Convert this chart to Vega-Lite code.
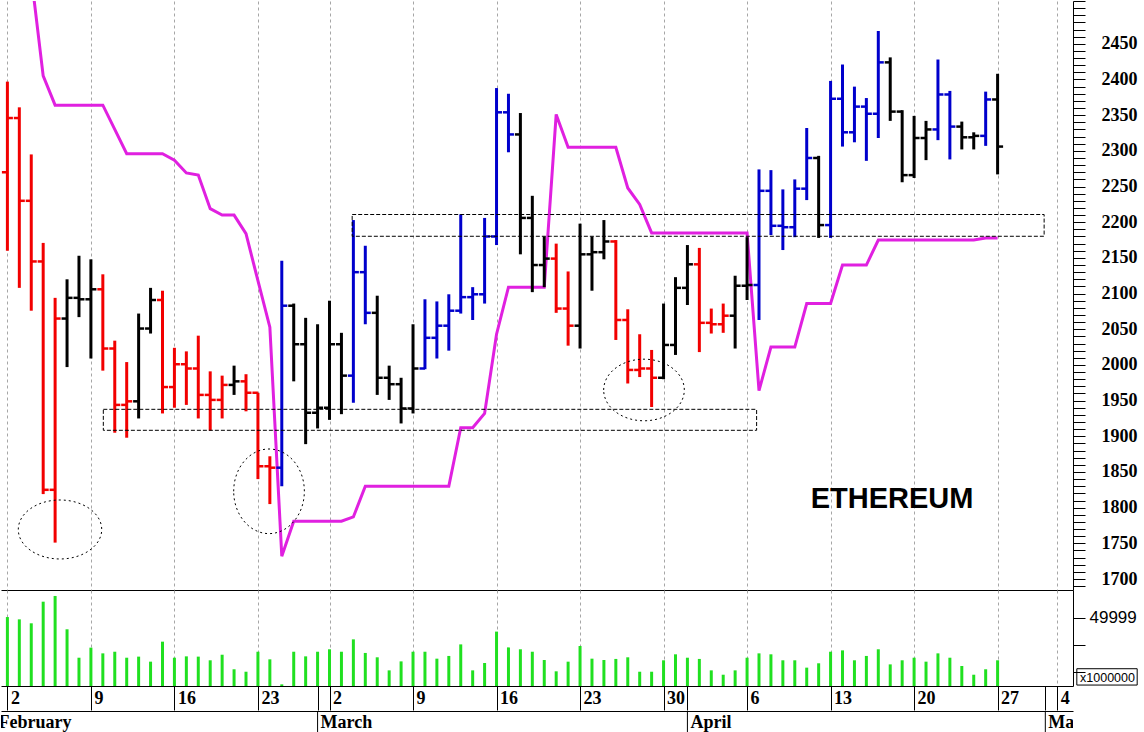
{
  "$schema": "https://vega.github.io/schema/vega-lite/v6.json",
  "background": "white",
  "padding": 0,
  "spacing": 0,
  "datasets": {
    "bars": [
      {"i":0,"o":2270,"h":2397,"l":2160,"c":2346,"s":"r","vol":50700,"st":2620},
      {"i":1,"o":2346,"h":2361,"l":2108,"c":2230,"s":"r","vol":49000,"st":2580},
      {"i":2,"o":2230,"h":2295,"l":2076,"c":2145,"s":"r","vol":46100,"st":2545},
      {"i":3,"o":2145,"h":2171,"l":1819,"c":1825,"s":"r","vol":62000,"st":2405},
      {"i":4,"o":1825,"h":2094,"l":1751,"c":2065,"s":"r","vol":66200,"st":2364},
      {"i":5,"o":2065,"h":2120,"l":1997,"c":2094,"s":"k","vol":41700,"st":2364},
      {"i":6,"o":2094,"h":2153,"l":2067,"c":2092,"s":"k","vol":20800,"st":2364},
      {"i":7,"o":2092,"h":2148,"l":2009,"c":2106,"s":"k","vol":28200,"st":2364},
      {"i":8,"o":2106,"h":2127,"l":1992,"c":2023,"s":"r","vol":24000,"st":2364},
      {"i":9,"o":2023,"h":2034,"l":1905,"c":1944,"s":"r","vol":25200,"st":2330},
      {"i":10,"o":1944,"h":2004,"l":1898,"c":1949,"s":"r","vol":20800,"st":2296},
      {"i":11,"o":1949,"h":2072,"l":1925,"c":2051,"s":"k","vol":21600,"st":2296},
      {"i":12,"o":2051,"h":2108,"l":2044,"c":2091,"s":"k","vol":17900,"st":2296},
      {"i":13,"o":2091,"h":2104,"l":1932,"c":1969,"s":"r","vol":32600,"st":2296},
      {"i":14,"o":1969,"h":2024,"l":1940,"c":2001,"s":"r","vol":20800,"st":2287},
      {"i":15,"o":2001,"h":2019,"l":1944,"c":1995,"s":"r","vol":21800,"st":2269},
      {"i":16,"o":1995,"h":2041,"l":1925,"c":1958,"s":"r","vol":21600,"st":2266},
      {"i":17,"o":1958,"h":1991,"l":1908,"c":1951,"s":"r","vol":18900,"st":2219},
      {"i":18,"o":1951,"h":1985,"l":1925,"c":1972,"s":"r","vol":23000,"st":2210},
      {"i":19,"o":1972,"h":1999,"l":1958,"c":1977,"s":"k","vol":12300,"st":2210},
      {"i":20,"o":1977,"h":1987,"l":1935,"c":1961,"s":"r","vol":10500,"st":2184},
      {"i":21,"o":1961,"h":1961,"l":1840,"c":1858,"s":"r","vol":25200,"st":2118},
      {"i":22,"o":1858,"h":1872,"l":1805,"c":1856,"s":"r","vol":19600,"st":2053},
      {"i":23,"o":1856,"h":2146,"l":1830,"c":2083,"s":"b","vol":1200,"st":1732},
      {"i":24,"o":2083,"h":2086,"l":1977,"c":2029,"s":"k","vol":25200,"st":1781},
      {"i":25,"o":2029,"h":2066,"l":1889,"c":1933,"s":"k","vol":21800,"st":1781},
      {"i":26,"o":1933,"h":2057,"l":1911,"c":1940,"s":"k","vol":25200,"st":1781},
      {"i":27,"o":1940,"h":2090,"l":1923,"c":2029,"s":"k","vol":27000,"st":1781},
      {"i":28,"o":2029,"h":2045,"l":1931,"c":1985,"s":"k","vol":25200,"st":1781},
      {"i":29,"o":1985,"h":2203,"l":1947,"c":2130,"s":"b","vol":34300,"st":1787},
      {"i":30,"o":2130,"h":2167,"l":2057,"c":2073,"s":"b","vol":24300,"st":1830},
      {"i":31,"o":2073,"h":2097,"l":1958,"c":1982,"s":"k","vol":21100,"st":1830},
      {"i":32,"o":1982,"h":1999,"l":1951,"c":1973,"s":"k","vol":11500,"st":1830},
      {"i":33,"o":1973,"h":1982,"l":1918,"c":1939,"s":"k","vol":18100,"st":1830},
      {"i":34,"o":1939,"h":2057,"l":1932,"c":1995,"s":"k","vol":25200,"st":1830},
      {"i":35,"o":1995,"h":2092,"l":1994,"c":2038,"s":"b","vol":25200,"st":1830},
      {"i":36,"o":2038,"h":2089,"l":2009,"c":2055,"s":"b","vol":20100,"st":1830},
      {"i":37,"o":2055,"h":2099,"l":2020,"c":2076,"s":"b","vol":22100,"st":1830},
      {"i":38,"o":2076,"h":2211,"l":2072,"c":2095,"s":"b","vol":30600,"st":1912},
      {"i":39,"o":2095,"h":2109,"l":2063,"c":2099,"s":"b","vol":11500,"st":1912},
      {"i":40,"o":2099,"h":2206,"l":2086,"c":2180,"s":"b","vol":16900,"st":1932},
      {"i":41,"o":2180,"h":2388,"l":2168,"c":2354,"s":"b","vol":40000,"st":2043},
      {"i":42,"o":2354,"h":2380,"l":2298,"c":2323,"s":"b","vol":28400,"st":2109},
      {"i":43,"o":2323,"h":2353,"l":2155,"c":2206,"s":"k","vol":27000,"st":2109},
      {"i":44,"o":2206,"h":2237,"l":2102,"c":2140,"s":"k","vol":25200,"st":2109},
      {"i":45,"o":2140,"h":2180,"l":2109,"c":2149,"s":"k","vol":19100,"st":2109},
      {"i":46,"o":2149,"h":2170,"l":2073,"c":2079,"s":"r","vol":10800,"st":2351},
      {"i":47,"o":2079,"h":2131,"l":2027,"c":2055,"s":"r","vol":17900,"st":2305},
      {"i":48,"o":2055,"h":2198,"l":2023,"c":2155,"s":"k","vol":29400,"st":2305},
      {"i":49,"o":2155,"h":2180,"l":2104,"c":2158,"s":"k","vol":20100,"st":2305},
      {"i":50,"o":2158,"h":2203,"l":2148,"c":2173,"s":"k","vol":19100,"st":2305},
      {"i":51,"o":2173,"h":2175,"l":2035,"c":2063,"s":"r","vol":19900,"st":2305},
      {"i":52,"o":2063,"h":2078,"l":1974,"c":1993,"s":"r","vol":21100,"st":2248},
      {"i":53,"o":1993,"h":2043,"l":1983,"c":1995,"s":"r","vol":10500,"st":2225},
      {"i":54,"o":1995,"h":2021,"l":1941,"c":1982,"s":"r","vol":10500,"st":2185},
      {"i":55,"o":1982,"h":2086,"l":1980,"c":2028,"s":"k","vol":18900,"st":2185},
      {"i":56,"o":2028,"h":2123,"l":2014,"c":2108,"s":"k","vol":23300,"st":2185},
      {"i":57,"o":2108,"h":2168,"l":2084,"c":2141,"s":"k","vol":20800,"st":2185},
      {"i":58,"o":2141,"h":2164,"l":2018,"c":2059,"s":"r","vol":19900,"st":2185},
      {"i":59,"o":2059,"h":2079,"l":2044,"c":2057,"s":"r","vol":11500,"st":2185},
      {"i":60,"o":2057,"h":2086,"l":2045,"c":2069,"s":"r","vol":8300,"st":2185},
      {"i":61,"o":2069,"h":2125,"l":2023,"c":2111,"s":"k","vol":11500,"st":2185},
      {"i":62,"o":2111,"h":2179,"l":2091,"c":2112,"s":"k","vol":20800,"st":2185},
      {"i":63,"o":2112,"h":2274,"l":2063,"c":2244,"s":"b","vol":24000,"st":1964},
      {"i":64,"o":2244,"h":2273,"l":2182,"c":2195,"s":"b","vol":23300,"st":2025},
      {"i":65,"o":2195,"h":2246,"l":2161,"c":2193,"s":"b","vol":18900,"st":2025},
      {"i":66,"o":2193,"h":2260,"l":2179,"c":2247,"s":"b","vol":18900,"st":2025},
      {"i":67,"o":2247,"h":2332,"l":2231,"c":2290,"s":"b","vol":13500,"st":2086},
      {"i":68,"o":2290,"h":2293,"l":2178,"c":2196,"s":"k","vol":16700,"st":2086},
      {"i":69,"o":2196,"h":2398,"l":2178,"c":2373,"s":"b","vol":25200,"st":2086},
      {"i":70,"o":2373,"h":2421,"l":2306,"c":2326,"s":"b","vol":26200,"st":2140},
      {"i":71,"o":2326,"h":2390,"l":2312,"c":2362,"s":"b","vol":18900,"st":2140},
      {"i":72,"o":2362,"h":2374,"l":2286,"c":2352,"s":"b","vol":22100,"st":2140},
      {"i":73,"o":2352,"h":2468,"l":2318,"c":2424,"s":"b","vol":27000,"st":2175},
      {"i":74,"o":2424,"h":2431,"l":2342,"c":2355,"s":"k","vol":15900,"st":2175},
      {"i":75,"o":2355,"h":2357,"l":2256,"c":2266,"s":"k","vol":18900,"st":2175},
      {"i":76,"o":2266,"h":2349,"l":2262,"c":2318,"s":"k","vol":20800,"st":2175},
      {"i":77,"o":2318,"h":2342,"l":2287,"c":2330,"s":"k","vol":17900,"st":2175},
      {"i":78,"o":2330,"h":2428,"l":2315,"c":2379,"s":"b","vol":24000,"st":2175},
      {"i":79,"o":2379,"h":2384,"l":2288,"c":2334,"s":"b","vol":20800,"st":2175},
      {"i":80,"o":2334,"h":2341,"l":2302,"c":2319,"s":"k","vol":14700,"st":2175},
      {"i":81,"o":2319,"h":2326,"l":2302,"c":2321,"s":"k","vol":8300,"st":2175},
      {"i":82,"o":2321,"h":2383,"l":2307,"c":2372,"s":"b","vol":12300,"st":2178},
      {"i":83,"o":2372,"h":2408,"l":2267,"c":2306,"s":"k","vol":18900,"st":2178}
    ],
    "boxes": [
      {"i":8.04,"i2":62.8,"p":1908.4,"p2":1937.8},
      {"i":28.9,"i2":86.9,"p":2180.3,"p2":2210.8}
    ],
    "rings": [
      {"i":4.41,"p":1769.4,"k":"a"},
      {"i":21.93,"p":1822.9,"k":"b"},
      {"i":53.36,"p":1964.9,"k":"c"}
    ],
    "notes": [{"i":74.15,"p":1812,"t":"ETHEREUM"}],
    "unit": [{"i":89.64,"i2":94.7,"vol":700,"vol2":12700}],
    "months": [
      {"i":-1,"m":"February"},
      {"i":26,"m":"March"},
      {"i":57,"m":"April"},
      {"i":87,"m":"May"}
    ]
  },
  "vconcat": [
    {
      "width": 1072,
      "height": 589,
      "layer": [
        {
          "data": {"name": "bars"},
          "mark": {"type": "line", "color": "#e020e0", "strokeWidth": 3, "clip": true},
          "encoding": {
            "x": {
              "field": "i", "type": "quantitative",
              "scale": {"domain": [-0.536, 89.32], "nice": false, "zero": false},
              "axis": {"title": null, "orient": "bottom", "values": [0,7,14,21,27,34,41,48,55,62,69,76,83,88], "grid": true, "ticks": false, "labels": false, "domain": true}
            },
            "y": {
              "field": "st", "type": "quantitative",
              "scale": {"domain": [1684.6, 2510], "nice": false, "zero": false},
              "axis": {
                "title": null, "orient": "right", "grid": false, "tickCount": 80, "format": "d",
                "labelExpr": "datum.value % 50 === 0 && datum.value <= 2450 ? datum.label : ''",
                "labelFontSize": {"condition": {"test": "datum.value % 50 === 0 && datum.value <= 2450", "value": 18}, "value": 0},
                "tickSize": 12, "labelPadding": 16,
                "labelFont": "Liberation Serif", "labelFontWeight": "bold",
                "encode": {"ticks": {"update": {"x2": {"signal": "datum.value % 50 === 0 ? 12 : 6"}}}}
              }
            }
          }
        },
        {
          "data": {"name": "bars"},
          "mark": {"type": "rule", "strokeWidth": 3},
          "encoding": {
            "x": {"field": "i", "type": "quantitative"},
            "y": {"field": "l", "type": "quantitative"},
            "y2": {"field": "h"},
            "color": {"field": "s", "type": "nominal", "scale": {"domain": ["r","k","b"], "range": ["#f20000","#000000","#0000cc"]}, "legend": null}
          }
        },
        {
          "data": {"name": "bars"},
          "mark": {"type": "rule", "strokeWidth": 2.5, "xOffset": -5.5, "x2Offset": 0},
          "encoding": {
            "x": {"field": "i", "type": "quantitative"},
            "x2": {"field": "i"},
            "y": {"field": "o", "type": "quantitative"},
            "color": {"field": "s", "type": "nominal", "legend": null}
          }
        },
        {
          "data": {"name": "bars"},
          "mark": {"type": "rule", "strokeWidth": 2.5, "xOffset": 0, "x2Offset": 5.5},
          "encoding": {
            "x": {"field": "i", "type": "quantitative"},
            "x2": {"field": "i"},
            "y": {"field": "c", "type": "quantitative"},
            "color": {"field": "s", "type": "nominal", "legend": null}
          }
        },
        {
          "data": {"name": "boxes"},
          "mark": {"type": "rect", "filled": false, "color": "#000000", "strokeWidth": 1, "strokeDash": [4, 2]},
          "encoding": {
            "x": {"field": "i", "type": "quantitative"},
            "x2": {"field": "i2"},
            "y": {"field": "p", "type": "quantitative"},
            "y2": {"field": "p2"}
          }
        },
        {
          "data": {"name": "rings"},
          "mark": {"type": "point", "filled": false, "color": "#000000", "strokeWidth": 1, "strokeDash": [2, 3], "size": 7160, "opacity": 1},
          "encoding": {
            "x": {"field": "i", "type": "quantitative"},
            "y": {"field": "p", "type": "quantitative"},
            "shape": {
              "field": "k", "type": "nominal", "legend": null,
              "scale": {
                "domain": ["a","b","c"],
                "range": [
                  "M-0.986,0A0.986,0.697,0,1,1,0.986,0A0.986,0.697,0,1,1,-0.986,0Z",
                  "M-0.835,0A0.835,1,0,1,1,0.835,0A0.835,1,0,1,1,-0.835,0Z",
                  "M-0.953,0A0.953,0.728,0,1,1,0.953,0A0.953,0.728,0,1,1,-0.953,0Z"
                ]
              }
            }
          }
        },
        {
          "data": {"name": "notes"},
          "mark": {"type": "text", "font": "Liberation Sans", "fontWeight": "bold", "fontSize": 29, "align": "center", "baseline": "middle", "color": "#000000"},
          "encoding": {
            "x": {"field": "i", "type": "quantitative"},
            "y": {"field": "p", "type": "quantitative"},
            "text": {"field": "t"}
          }
        }
      ]
    },
    {
      "width": 1072,
      "height": 96,
      "layer": [
        {
          "data": {"name": "bars"},
          "mark": {"type": "rule", "strokeWidth": 3, "color": "#20e020"},
          "encoding": {
            "x": {
              "field": "i", "type": "quantitative",
              "scale": {"domain": [-0.536, 89.32], "nice": false, "zero": false},
              "axis": {
                "title": null, "orient": "bottom",
                "values": [0,7,14,21,26,27,34,41,48,55,57,62,69,76,83,87,88],
                "grid": true,
                "gridOpacity": {"condition": {"test": "datum.value === 26 || datum.value === 57 || datum.value === 87", "value": 0}, "value": 1},
                "tickSize": 24,
                "labelExpr": "indexof([0,7,14,21,27,34,41,48,55,62,69,76,83,88], datum.value) < 0 ? '' : ['2','9','16','23','2','9','16','23','30','6','13','20','27','4'][indexof([0,7,14,21,27,34,41,48,55,62,69,76,83,88], datum.value)]",
                "labelAlign": "left", "labelBaseline": "middle", "labelPadding": -12, "labelOffset": 3,
                "labelFont": "Liberation Serif", "labelFontWeight": "bold", "labelFontSize": 18
              }
            },
            "y": {
              "field": "vol", "type": "quantitative",
              "scale": {"domain": [0, 70588], "nice": false, "zero": true},
              "axis": {
                "title": "x1000000", "orient": "right", "grid": false,
                "values": [10000,20000,30000,40000,50000,60000],
                "labelExpr": "datum.value == 50000 ? '49999' : ''",
                "tickSize": 12, "labelPadding": 4,
                "labelFont": "Liberation Sans", "labelFontSize": 17,
                "titleAngle": 0, "titleX": 34, "titleY": 87, "titleAlign": "center", "titleBaseline": "middle",
                "titleFont": "Liberation Sans", "titleFontSize": 12.5, "titleFontWeight": "normal", "titleColor": "#000000",
                "encode": {"ticks": {"update": {"x2": {"signal": "datum.value == 50000 ? 12 : 6"}}}}
              }
            },
            "y2": {"datum": 0}
          }
        },
        {
          "data": {"name": "unit"},
          "mark": {"type": "rect", "filled": false, "color": "#000000", "strokeWidth": 1},
          "encoding": {
            "x": {"field": "i", "type": "quantitative"},
            "x2": {"field": "i2"},
            "y": {"field": "vol", "type": "quantitative"},
            "y2": {"field": "vol2"}
          }
        }
      ]
    },
    {
      "width": 1072,
      "height": 23,
      "data": {"name": "months"},
      "layer": [
        {
          "mark": {"type": "rule", "color": "#000000", "strokeWidth": 1, "clip": true},
          "encoding": {
            "x": {
              "field": "i", "type": "quantitative",
              "scale": {"domain": [-0.536, 89.32], "nice": false, "zero": false},
              "axis": {"title": null, "orient": "top", "domain": true, "ticks": false, "labels": false, "grid": false}
            }
          }
        },
        {
          "mark": {"type": "text", "align": "left", "baseline": "middle", "dx": 3, "font": "Liberation Serif", "fontWeight": "bold", "fontSize": 18, "color": "#000000", "clip": true},
          "encoding": {
            "x": {"field": "i", "type": "quantitative"},
            "text": {"field": "m"}
          }
        }
      ]
    }
  ],
  "config": {
    "view": {"stroke": null},
    "concat": {"spacing": 0},
    "axis": {
      "domainColor": "#000000", "domainWidth": 1,
      "tickColor": "#000000", "tickWidth": 1,
      "labelColor": "#000000",
      "gridColor": "#a6a6a6", "gridDash": [3, 3], "gridWidth": 1,
      "labelFlush": false, "labelOverlap": false
    }
  }
}
